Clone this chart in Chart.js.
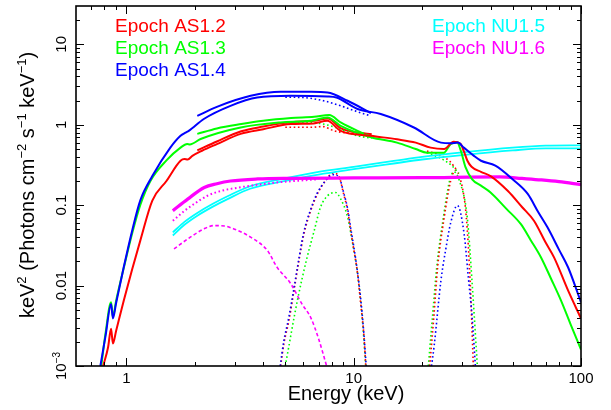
<!DOCTYPE html>
<html>
<head>
<meta charset="utf-8">
<script src="https://cdn.jsdelivr.net/npm/chart.js@4"></script>
<style>
  html, body { margin: 0; padding: 0; background: #fff; }
</style>
</head>
<body>
<canvas id="spec" width="611" height="410"></canvas>
<script>
// ---- data (energy in keV, flux in keV^2 photons cm^-2 s^-1 keV^-1) ----
const redTotalE = [0.79, 0.83, 0.856, 0.872, 0.9, 0.973, 1.06, 1.15, 1.3, 1.5, 1.73, 1.8, 1.86, 1.95, 2.15, 2.5, 3.18, 4.0, 5.28, 6.66, 7.65, 8.76, 11.9, 15.5, 18.75, 21.8, 25, 27.5, 29.5, 30.5, 31.6, 33, 36.3, 40, 47.7, 55, 62.1, 70, 76.1, 87.7, 100];
const redTotalF = [0.001, 0.0017, 0.0029, 0.0019, 0.0027, 0.0065, 0.016, 0.036, 0.114, 0.2, 0.357, 0.375, 0.37, 0.41, 0.475, 0.575, 0.77, 0.88, 1.02, 1.04, 1.12, 0.84, 0.73, 0.66, 0.6, 0.52, 0.5, 0.615, 0.58, 0.47, 0.36, 0.3, 0.26, 0.23, 0.15, 0.095, 0.064, 0.034, 0.0224, 0.0087, 0.0039];
const greenTotalE = [0.775, 0.81, 0.856, 0.872, 0.9, 0.973, 1.063, 1.15, 1.275, 1.5, 1.73, 1.85, 1.9, 2.12, 3.18, 4.77, 6.5, 7.67, 8.76, 11.9, 15.5, 18.75, 21, 24.9, 26.7, 28.5, 29.6, 31, 33.2, 36.3, 40, 47, 54.4, 60, 66.7, 74, 81.7, 90, 100];
const greenTotalF = [0.001, 0.0026, 0.0062, 0.0041, 0.0064, 0.0165, 0.046, 0.1, 0.2, 0.36, 0.52, 0.575, 0.57, 0.665, 0.925, 1.07, 1.12, 1.23, 0.97, 0.7, 0.6, 0.5, 0.45, 0.45, 0.575, 0.6, 0.475, 0.3, 0.21, 0.175, 0.144, 0.09, 0.058, 0.037, 0.0224, 0.012, 0.0065, 0.0033, 0.0016];
const blueTotalE = [0.768, 0.81, 0.856, 0.872, 0.9, 0.973, 1.063, 1.15, 1.3, 1.56, 1.73, 1.82, 1.88, 2.19, 2.87, 3.76, 5.28, 7.67, 8.4, 10.4, 13.15, 18.4, 24.2, 26.7, 28.7, 30.5, 33.8, 36.3, 42, 50, 58.3, 65, 71.2, 80, 87.7, 100];
const blueTotalF = [0.001, 0.0024, 0.0059, 0.0039, 0.006, 0.0169, 0.05, 0.114, 0.23, 0.52, 0.73, 0.8, 0.84, 1.18, 1.72, 2.18, 2.29, 2.25, 2.18, 1.57, 1.36, 0.925, 0.6, 0.59, 0.6, 0.52, 0.41, 0.357, 0.31, 0.21, 0.138, 0.081, 0.053, 0.028, 0.0169, 0.0062];

// second (offset) model curves, 2-12 keV
const redUpperE = [2.05, 2.5, 3.2, 4.0, 5.3, 6.7, 7.7, 8.8, 10.4, 12];
const redUpperF = [0.48, 0.62, 0.83, 0.95, 1.08, 1.12, 1.2, 0.9, 0.8, 0.76];
const greenUpperE = [2.05, 2.5, 3.2, 4.0, 5.3, 6.7, 7.8, 8.8, 10.4, 12];
const greenUpperF = [0.77, 0.9, 1.02, 1.12, 1.21, 1.26, 1.32, 1.06, 0.84, 0.71];
const blueUpperE = [2.05, 2.5, 3.52, 4.77, 6.5, 7.67, 9.4, 11.9];
const blueUpperF = [1.29, 1.67, 2.29, 2.57, 2.57, 2.52, 1.99, 1.4];

// dotted curves just under the totals, 5-12 keV
const redNearE = [5.0, 6.47, 7.3, 8.2, 9.5, 11.5];
const redNearF = [0.93, 0.93, 0.95, 0.84, 0.79, 0.77];
const greenNearE = [5.0, 6.47, 7.9, 9.0, 10.4, 12];
const greenNearF = [1.05, 1.07, 0.97, 0.85, 0.73, 0.68];
const blueNearE = [5.0, 6.0, 7.36, 8.76, 10.4, 11.9];
const blueNearF = [2.2, 2.18, 1.99, 1.72, 1.45, 1.29];

// dotted curves near the totals, 20-30 keV
const redHighE = [21, 24, 26.5, 28.5];
const redHighF = [0.47, 0.42, 0.35, 0.27];
const greenHighE = [21, 24.5, 27, 29];
const greenHighF = [0.45, 0.375, 0.31, 0.25];

// ~8 keV components
const redLine8E = [4.77, 4.93, 5.19, 5.46, 5.74, 6.04, 6.47, 6.92, 7.5, 8.1, 8.6, 9.03, 9.4, 9.7, 9.97, 10.4, 10.7, 11.1, 11.3];
const redLine8F = [0.001, 0.0019, 0.0037, 0.0087, 0.0205, 0.044, 0.086, 0.138, 0.2, 0.25, 0.23, 0.138, 0.086, 0.048, 0.03, 0.014, 0.0065, 0.0023, 0.001];
const blueLine8E = [4.75, 4.92, 5.18, 5.45, 5.73, 6.03, 6.46, 6.9, 7.5, 8.1, 8.6, 9.05, 9.42, 9.72, 10.0, 10.4, 10.75, 11.1, 11.35];
const blueLine8F = [0.001, 0.002, 0.004, 0.009, 0.021, 0.046, 0.088, 0.14, 0.2, 0.24, 0.225, 0.14, 0.088, 0.05, 0.031, 0.0145, 0.0066, 0.0024, 0.001];
const greenLine8E = [5.0, 5.65, 6.24, 6.7, 7.14, 7.65, 8.3, 8.76, 9.4, 9.9, 10.4, 10.9, 11.3];
const greenLine8F = [0.001, 0.0065, 0.0226, 0.048, 0.094, 0.13, 0.144, 0.12, 0.071, 0.033, 0.014, 0.004, 0.001];

// ~28 keV components
const redLine28E = [21.6, 22.5, 23.4, 25, 26.7, 28, 29.6, 31.3, 32.6, 33.6];
const redLine28F = [0.001, 0.004, 0.017, 0.07, 0.2, 0.27, 0.2, 0.07, 0.01, 0.001];
const greenLine28E = [21.3, 22.2, 23.2, 24.8, 26.4, 27.6, 29.2, 31.6, 33.2, 35];
const greenLine28F = [0.001, 0.004, 0.017, 0.07, 0.2, 0.26, 0.2, 0.07, 0.0106, 0.001];
const blueLine28E = [22, 22.6, 24.2, 25.5, 26.7, 28.6, 30.6, 32, 33.2, 34.3];
const blueLine28F = [0.001, 0.0018, 0.0116, 0.03, 0.06, 0.099, 0.044, 0.012, 0.004, 0.001];

// NuSTAR-like epochs
const cyanAE = [1.6, 1.8, 2.05, 2.4, 2.8, 3.5, 5, 7, 10, 15, 20, 30, 50, 70, 100];
const cyanAF = [0.046, 0.062, 0.08, 0.104, 0.13, 0.172, 0.215, 0.26, 0.3, 0.355, 0.4, 0.455, 0.52, 0.55, 0.555];
const cyanBE = [1.6, 1.8, 2.05, 2.4, 2.8, 3.5, 5, 7, 10, 15, 20, 30, 50, 70, 100];
const cyanBF = [0.042, 0.057, 0.074, 0.096, 0.12, 0.16, 0.2, 0.24, 0.28, 0.33, 0.37, 0.42, 0.48, 0.51, 0.51];
const magTotalE = [1.6, 1.86, 2.2, 2.5, 2.87, 3.78, 5.28, 10, 20, 44, 55, 67, 80, 100];
const magTotalF = [0.0855, 0.119, 0.166, 0.185, 0.2, 0.212, 0.216, 0.218, 0.22, 0.225, 0.215, 0.206, 0.196, 0.18];
const magDotE = [1.6, 1.8, 2.0, 2.27, 2.6, 3.18, 4.46, 5.5, 7.0];
const magDotF = [0.064, 0.085, 0.105, 0.131, 0.15, 0.167, 0.19, 0.2, 0.21];
const magDashE = [1.62, 1.91, 2.2, 2.42, 2.7, 2.97, 3.52, 4.17, 4.6, 5.28, 5.9, 6.47, 7.0, 7.6];
const magDashF = [0.0286, 0.04, 0.051, 0.0557, 0.055, 0.0507, 0.04, 0.0273, 0.0169, 0.0106, 0.006, 0.004, 0.0022, 0.001];

// axes
const xMajor = [1, 10, 100];
const xMajorLabels = ['1', '10', '100'];
const xMinor = [0.7, 0.8, 0.9, 2, 3, 4, 5, 6, 7, 8, 9, 20, 30, 40, 50, 60, 70, 80, 90];
const yMajor = [0.001, 0.01, 0.1, 1, 10];
const yMajorLabels = [[['10'], ['\u22123', true]], [['0.01']], [['0.1']], [['1']], [['10']]];
const yMinor = [0.002, 0.003, 0.004, 0.005, 0.006, 0.007, 0.008, 0.009, 0.02, 0.03, 0.04, 0.05, 0.06, 0.07, 0.08, 0.09,
  0.2, 0.3, 0.4, 0.5, 0.6, 0.7, 0.8, 0.9, 2, 3, 4, 5, 6, 7, 8, 9, 20];
const yTitle = [['keV'], ['2', true], [' (Photons cm'], ['\u22122', true], [' s'], ['\u22121', true], [' keV'], ['\u22121', true], [')']];
const xTitle = 'Energy (keV)';
const legendLeft = [['Epoch AS1.2', '#ff0000'], ['Epoch AS1.3', '#00ff00'], ['Epoch AS1.4', '#0000ff']];
const legendRight = [['Epoch NU1.5', '#00ffff'], ['Epoch NU1.6', '#ff00ff']];

const RED = '#ff0000', GREEN = '#00ff00', BLUE = '#0000ff', CYAN = '#00ffff', MAG = '#ff00ff';
const FONT = '"Liberation Sans", Arial, Helvetica, sans-serif';

const pts = (es, fs) => es.map((e, i) => ({ x: e, y: fs[i] }));
function curve(es, fs, color, kind, width) {
  const dash = kind === 'dot' ? [1.6, 2.6] : kind === 'dash' ? [3.5, 2.5] : [];
  return {
    data: pts(es, fs),
    borderColor: color,
    borderWidth: width || (kind === 'solid' ? 2 : 1.6),
    borderDash: dash,
    pointRadius: 0,
    fill: false,
    cubicInterpolationMode: 'monotone',
  };
}

// bottom to top
const sets = [
  curve(magDashE, magDashF, MAG, 'dash'),
  curve(greenLine8E, greenLine8F, GREEN, 'dot'),
  curve(redLine8E, redLine8F, RED, 'dot'),
  curve(blueLine8E, blueLine8F, BLUE, 'dot'),
  curve(greenLine28E, greenLine28F, GREEN, 'dot'),
  curve(redLine28E, redLine28F, RED, 'dot'),
  curve(blueLine28E, blueLine28F, BLUE, 'dot'),
  curve(redHighE, redHighF, RED, 'dot'),
  curve(greenHighE, greenHighF, GREEN, 'dot'),
  curve(cyanAE, cyanAF, CYAN, 'solid', 1.8),
  curve(cyanBE, cyanBF, CYAN, 'solid', 1.8),
  curve(magDotE, magDotF, MAG, 'dot', 2),
  curve(magTotalE, magTotalF, MAG, 'solid', 3.2),
  curve(redUpperE, redUpperF, RED, 'solid'),
  curve(greenUpperE, greenUpperF, GREEN, 'solid'),
  curve(blueUpperE, blueUpperF, BLUE, 'solid'),
  curve(redNearE, redNearF, RED, 'dot'),
  curve(greenNearE, greenNearF, GREEN, 'dot'),
  curve(blueNearE, blueNearF, BLUE, 'dot'),
  curve(greenTotalE, greenTotalF, GREEN, 'solid'),
  curve(redTotalE, redTotalF, RED, 'solid'),
  curve(blueTotalE, blueTotalF, BLUE, 'solid'),
];
sets.forEach((s, i) => { s.order = sets.length - i; });

// text with superscript parts, centred on (0,0) of the current transform
function drawRich(ctx, parts, size) {
  const supSize = Math.round(size * 0.66);
  let w = 0;
  parts.forEach(([t, sup]) => {
    ctx.font = `${sup ? supSize : size}px ${FONT}`;
    w += ctx.measureText(t).width;
  });
  let cx = -w / 2;
  ctx.textAlign = 'left';
  ctx.textBaseline = 'alphabetic';
  parts.forEach(([t, sup]) => {
    ctx.font = `${sup ? supSize : size}px ${FONT}`;
    ctx.fillText(t, cx, sup ? -size * 0.4 : 0);
    cx += ctx.measureText(t).width;
  });
}

const framePlugin = {
  id: 'frame',
  afterDatasetsDraw(chart) {
    const { ctx, chartArea: a, scales: { x, y } } = chart;
    ctx.save();
    ctx.strokeStyle = '#000';
    ctx.fillStyle = '#000';

    ctx.lineWidth = 1;
    ctx.beginPath();
    const tx = (v, len) => {
      const px = Math.round(x.getPixelForValue(v)) + 0.5;
      ctx.moveTo(px, a.bottom); ctx.lineTo(px, a.bottom - len);
      ctx.moveTo(px, a.top); ctx.lineTo(px, a.top + len);
    };
    const ty = (v, len) => {
      const py = Math.round(y.getPixelForValue(v)) + 0.5;
      ctx.moveTo(a.left, py); ctx.lineTo(a.left + len, py);
      ctx.moveTo(a.right, py); ctx.lineTo(a.right - len, py);
    };
    xMajor.forEach((v) => tx(v, 8));
    xMinor.forEach((v) => tx(v, 4));
    yMajor.forEach((v) => ty(v, 8));
    yMinor.forEach((v) => ty(v, 4));
    ctx.stroke();

    ctx.lineWidth = 1.6;
    ctx.strokeRect(a.left, a.top, a.right - a.left, a.bottom - a.top);

    // x tick labels
    ctx.font = `15px ${FONT}`;
    ctx.textAlign = 'center';
    ctx.textBaseline = 'alphabetic';
    xMajor.forEach((v, i) => ctx.fillText(xMajorLabels[i], x.getPixelForValue(v), a.bottom + 17));

    // y tick labels (rotated)
    yMajor.forEach((v, i) => {
      ctx.save();
      ctx.translate(a.left - 10, y.getPixelForValue(v));
      ctx.rotate(-Math.PI / 2);
      drawRich(ctx, yMajorLabels[i], 15);
      ctx.restore();
    });

    // axis titles
    ctx.save();
    ctx.translate(34, 185);
    ctx.rotate(-Math.PI / 2);
    drawRich(ctx, yTitle, 20);
    ctx.restore();

    ctx.font = `20px ${FONT}`;
    ctx.textAlign = 'center';
    ctx.fillText(xTitle, 346, 400);

    // epoch labels
    ctx.font = `19px ${FONT}`;
    ctx.textAlign = 'left';
    legendLeft.forEach(([t, c], i) => { ctx.fillStyle = c; ctx.fillText(t, 115, 32 + i * 22); });
    legendRight.forEach(([t, c], i) => { ctx.fillStyle = c; ctx.fillText(t, 432, 32 + i * 22); });
    ctx.restore();
  },
};

new Chart(document.getElementById('spec'), {
  type: 'line',
  data: { datasets: sets },
  options: {
    responsive: false,
    animation: false,
    layout: { padding: { top: 6, right: 30, left: 0, bottom: 0 } },
    plugins: { legend: { display: false }, tooltip: { enabled: false } },
    scales: {
      x: {
        type: 'logarithmic', min: 0.6, max: 100,
        grid: { display: false }, border: { display: false }, ticks: { display: false },
        afterFit: (s) => { s.height = 44; },
      },
      y: {
        type: 'logarithmic', min: 0.001, max: 30,
        grid: { display: false }, border: { display: false }, ticks: { display: false },
        afterFit: (s) => { s.width = 76; },
      },
    },
  },
  plugins: [framePlugin],
});
</script>
</body>
</html>
